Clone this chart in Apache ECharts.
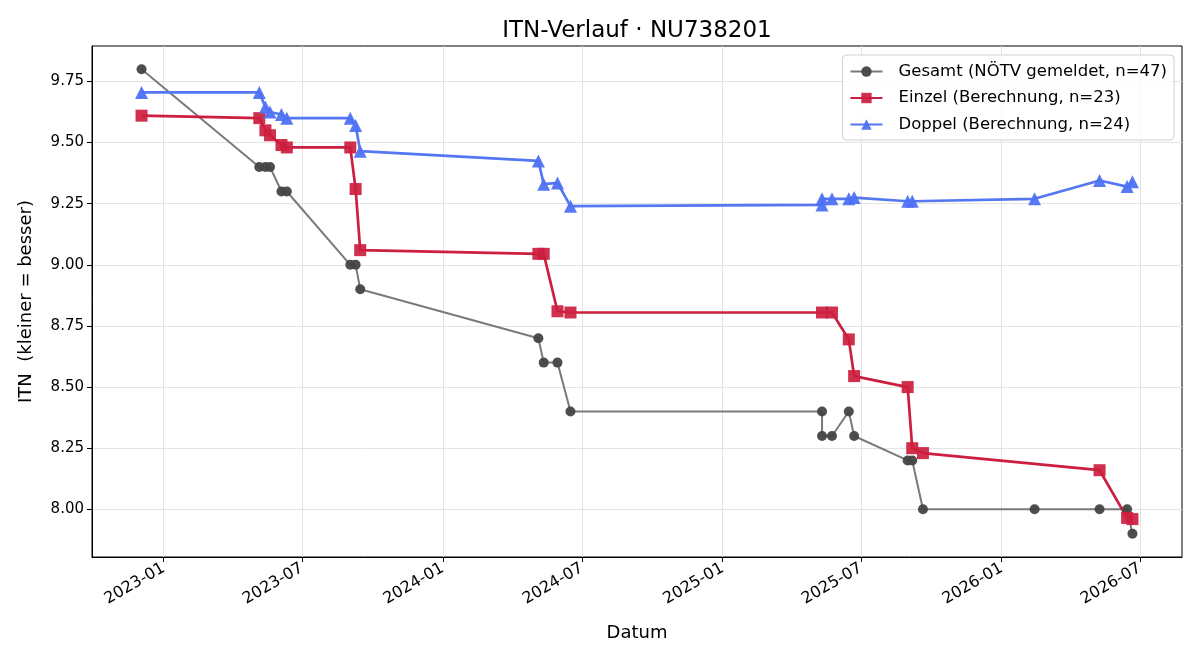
<!DOCTYPE html>
<html>
<head>
<meta charset="utf-8">
<script src="https://cdn.jsdelivr.net/npm/echarts@6/dist/echarts.min.js"></script>
<style>
  html, body { margin: 0; padding: 0; background: #fff; }
  #chart_one { width: 1200px; height: 660px; }
</style>
</head>
<body>
<div id="chart_one"></div>
<script>
// Werte
const gesamtDates = ['2022-12-03','2023-05-06','2023-05-14','2023-05-20','2023-06-04','2023-06-11','2023-09-02','2023-09-09','2023-09-15',
  '2024-05-05','2024-05-12','2024-05-30','2024-06-16','2025-05-11','2025-05-11','2025-05-24','2025-06-15','2025-06-22',
  '2025-08-31','2025-09-06','2025-09-20','2026-02-13','2026-05-09','2026-06-14','2026-06-21'];
const gesamtValues = [9.80,9.40,9.40,9.40,9.30,9.30,9.00,9.00,8.90,8.70,8.60,8.60,8.40,8.40,8.30,8.30,8.40,8.30,8.20,8.20,8.00,8.00,8.00,8.00,7.90];

const einzelDates = ['2022-12-03','2023-05-06','2023-05-14','2023-05-20','2023-06-04','2023-06-11','2023-09-02','2023-09-09','2023-09-15',
  '2024-05-05','2024-05-12','2024-05-30','2024-06-16','2025-05-11','2025-05-24','2025-06-15','2025-06-22',
  '2025-08-31','2025-09-06','2025-09-20','2026-05-09','2026-06-14','2026-06-21'];
const einzelValues = [9.61,9.60,9.55,9.53,9.49,9.48,9.48,9.31,9.06,9.045,9.045,8.81,8.805,8.805,8.805,8.695,8.545,8.50,8.25,8.23,8.16,7.965,7.96];

const doppelDates = ['2022-12-03','2023-05-06','2023-05-14','2023-05-20','2023-06-04','2023-06-11','2023-09-02','2023-09-09','2023-09-15',
  '2024-05-05','2024-05-12','2024-05-30','2024-06-16','2025-05-11','2025-05-11','2025-05-24','2025-06-15','2025-06-22',
  '2025-08-31','2025-09-06','2026-02-13','2026-05-09','2026-06-14','2026-06-21'];
const doppelValues = [9.705,9.705,9.645,9.625,9.615,9.60,9.60,9.57,9.465,9.425,9.33,9.335,9.24,9.245,9.27,9.27,9.27,9.275,9.26,9.26,9.27,9.345,9.32,9.34];

const xTickLabels = ['2023-01','2023-07','2024-01','2024-07','2025-01','2025-07','2026-01','2026-07'];
const yTickValues = [8.00,8.25,8.50,8.75,9.00,9.25,9.50,9.75];

const font = 'DejaVu Sans';

function toTs(s) { return new Date(s + 'T00:00:00Z').getTime(); }
const xTicks = xTickLabels.map(s => toTs(s + '-01'));

// matplotlib-artige 5% Ränder
const allTs = gesamtDates.concat(einzelDates, doppelDates).map(toTs);
const tMin = Math.min(...allTs), tMax = Math.max(...allTs);
const allV = gesamtValues.concat(einzelValues, doppelValues);
const vMin = Math.min(...allV), vMax = Math.max(...allV);
const xPad = (tMax - tMin) * 0.05, yPad = (vMax - vMin) * 0.05;

function pairs(d, v) { return d.map((s, i) => [toTs(s), v[i]]); }

var theDom = document.getElementById('chart_one');
var myChart = echarts.init(theDom);

var option = {
  animation: false,
  backgroundColor: '#fff',
  title: {
    text: 'ITN-Verlauf · NU738201',
    left: 632, top: 15, textAlign: 'center',
    textStyle: { fontFamily: font, fontSize: 23, fontWeight: 'normal', color: '#000' }
  },
  legend: {
    orient: 'vertical',
    right: 26, top: 55,
    padding: [8, 7, 7, 7],
    itemWidth: 32, itemHeight: 13, itemGap: 9.5,
    backgroundColor: 'rgba(255,255,255,0.8)',
    borderColor: '#d0d0d0', borderWidth: 1, borderRadius: 4,
    textStyle: { fontFamily: font, fontSize: 16.5, color: '#000', padding: [0, 0, 0, 11] },
    data: ['Gesamt (NÖTV gemeldet, n=47)', 'Einzel (Berechnung, n=23)', 'Doppel (Berechnung, n=24)']
  },
  grid: {
    left: 92, right: 18, top: 46, bottom: 103,
    show: true, borderColor: '#000', borderWidth: 1
  },
  xAxis: {
    type: 'value',
    min: tMin - xPad, max: tMax + xPad,
    name: 'Datum', nameLocation: 'middle', nameGap: 67,
    nameTextStyle: { fontFamily: font, fontSize: 18, color: '#000' },
    axisLine: { lineStyle: { color: '#000', width: 1 } },
    axisTick: { show: true, length: 5, lineStyle: { color: '#000' }, customValues: xTicks },
    axisLabel: {
      rotate: 30, margin: 10, fontFamily: font, fontSize: 16, color: '#000',
      customValues: xTicks,
      formatter: function (val) {
        const d = new Date(val);
        return d.getUTCFullYear() + '-' + String(d.getUTCMonth() + 1).padStart(2, '0');
      }
    },
    splitLine: { show: true, lineStyle: { color: '#e3e3e3', width: 1 }, customValues: xTicks }
  },
  yAxis: {
    type: 'value',
    min: vMin - yPad, max: vMax + yPad,
    name: 'ITN  (kleiner = besser)', nameLocation: 'middle', nameGap: 57,
    nameTextStyle: { fontFamily: font, fontSize: 18, color: '#000' },
    axisLine: { show: true, lineStyle: { color: '#000', width: 1 } },
    axisTick: { show: true, length: 5, lineStyle: { color: '#000' }, customValues: yTickValues },
    axisLabel: {
      margin: 8, fontFamily: font, fontSize: 15, color: '#000',
      customValues: yTickValues,
      formatter: function (v) { return v.toFixed(2); }
    },
    splitLine: { show: true, lineStyle: { color: '#e3e3e3', width: 1 }, customValues: yTickValues }
  },
  series: [
    {
      name: 'Gesamt (NÖTV gemeldet, n=47)',
      type: 'line',
      symbol: 'circle', symbolSize: 10,
      lineStyle: { color: '#7a7a7a', width: 2 },
      itemStyle: { color: '#444444', opacity: 0.95 },
      data: pairs(gesamtDates, gesamtValues)
    },
    {
      name: 'Einzel (Berechnung, n=23)',
      type: 'line',
      symbol: 'rect', symbolSize: 12,
      lineStyle: { color: '#cc1e3e', width: 2.7 },
      itemStyle: { color: '#cc1e3e', opacity: 0.92 },
      data: pairs(einzelDates, einzelValues)
    },
    {
      name: 'Doppel (Berechnung, n=24)',
      type: 'line',
      symbol: 'triangle', symbolSize: 13,
      lineStyle: { color: '#5577f2', width: 2.7 },
      itemStyle: { color: '#4f72f4', opacity: 0.95 },
      data: pairs(doppelDates, doppelValues)
    }
  ]
};

myChart.setOption(option);
window.onresize = function () {
  myChart.resize();
};
</script>
</body>
</html>
